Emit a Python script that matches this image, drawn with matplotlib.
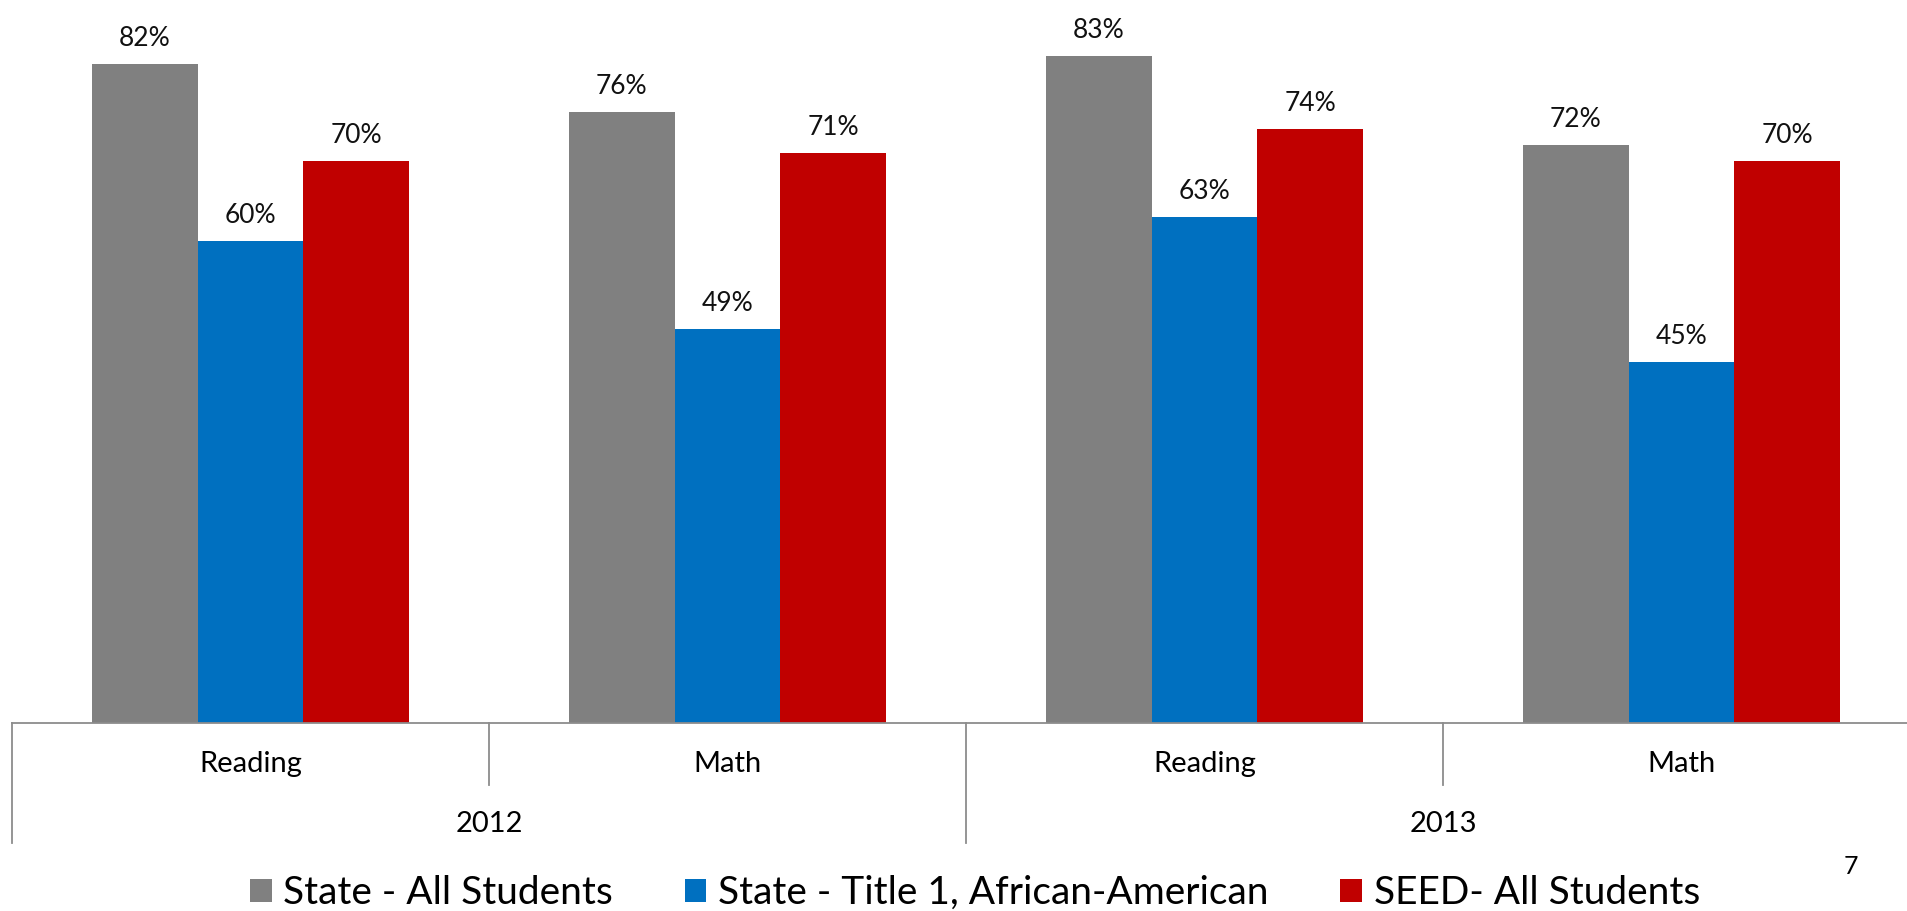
import matplotlib
matplotlib.use("Agg")
import matplotlib.pyplot as plt
import matplotlib.transforms as mtransforms
from matplotlib.patches import Patch
import numpy as np

plt.rcParams['font.family'] = ['Lato', 'DejaVu Sans']

# proficiency rates by year / subject
years = ['2012', '2013']
subjects = ['Reading', 'Math', 'Reading', 'Math']
series_names = ['State - All Students', 'State - Title 1, African-American', 'SEED- All Students']
state_all = [82, 76, 83, 72]
state_title1 = [60, 49, 63, 45]
seed_all = [70, 71, 74, 70]
colors = ['#808080', '#0070C0', '#C00000']
page_no = '7'

W, H = 1908, 911
fig = plt.figure(figsize=(W / 100, H / 100), dpi=100)
# plot area: left edge at 12px, baseline at 723px, 4 categories of 477px each
ax = fig.add_axes([12 / W, (H - 723) / H, 4 * 477 / W, 723 / H])

x = np.arange(len(subjects))
bw = 0.2222
for k, vals in enumerate([state_all, state_title1, seed_all]):
    bars = ax.bar(x + (k - 1) * bw, vals, width=bw, color=colors[k], zorder=2)
    for rect, v in zip(bars, vals):
        ax.annotate(f'{v}%', (rect.get_x() + rect.get_width() / 2, v),
                    xytext=(0, 13), textcoords='offset pixels',
                    ha='center', va='bottom', fontsize=19, color='#111111')

ax.set_xlim(-0.5, len(subjects) - 0.5)
ax.set_ylim(0, 90)
ax.axis('off')

# multi-level category axis
trans = mtransforms.blended_transform_factory(ax.transData, ax.transAxes)
axcol = '#8c8c8c'
ax.plot([-0.5, len(subjects) - 0.5], [0, 0], color=axcol, lw=1.3, transform=trans, clip_on=False)
inner = 62 / 723
outer = 120 / 723
for b in np.arange(-0.5, len(subjects), 1.0):
    depth = outer if (b + 0.5) % 2 == 0 else inner
    ax.plot([b, b], [0, -depth], color=axcol, lw=1.3, transform=trans, clip_on=False)

for i, s in enumerate(subjects):
    ax.text(i, -41 / 723, s, transform=trans, ha='center', va='center', fontsize=21)
for j, yr in enumerate(years):
    ax.text(2 * j + 0.5, -101 / 723, yr, transform=trans, ha='center', va='center', fontsize=21)

handles = [Patch(facecolor=c, edgecolor='none') for c in colors]
fig.legend(handles, series_names, loc='center', bbox_to_anchor=(0.511, (H - 893) / H),
           ncol=3, frameon=False, fontsize=28, handlelength=0.55, handleheight=0.55,
           handletextpad=0.3, columnspacing=1.85, borderaxespad=0, borderpad=0)

fig.text(1851 / W, (H - 867) / H, page_no, ha='center', va='center', fontsize=18)

fig.savefig('out.png', dpi=100)
